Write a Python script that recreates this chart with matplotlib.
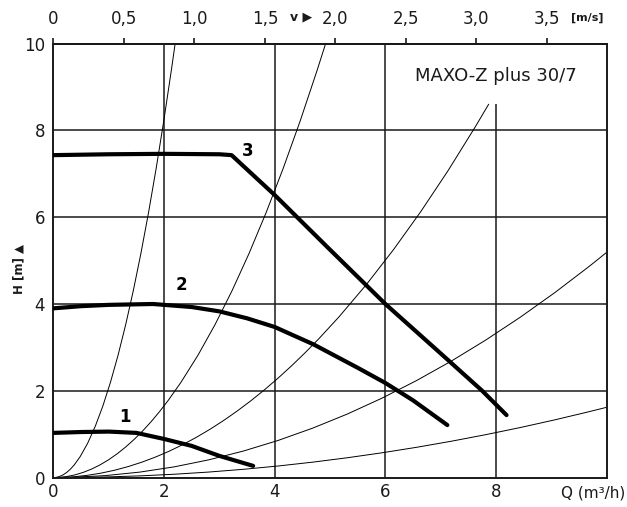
import matplotlib
matplotlib.use("Agg")
from matplotlib import pyplot as plt
from matplotlib.path import Path
from matplotlib.patches import PathPatch

# pump curves (Q m3/h, H m)
q_speed1 = [0, 0.5, 1.0, 1.5, 2.0, 2.5, 3.0, 3.61]
h_speed1 = [1.03, 1.05, 1.06, 1.03, 0.89, 0.73, 0.50, 0.27]

q_speed2 = [0, 0.5, 1.0, 1.8, 2.5, 3.0, 3.5, 4.0, 4.7, 5.5, 6.0, 6.5, 7.12]
h_speed2 = [3.90, 3.95, 3.98, 4.00, 3.93, 3.83, 3.67, 3.47, 3.07, 2.53, 2.18, 1.78, 1.21]

q_speed3 = [0, 1.0, 2.0, 3.0, 3.22, 4.0, 5.0, 6.0, 7.0, 7.75, 8.19]
h_speed3 = [7.43, 7.45, 7.46, 7.45, 7.43, 6.51, 5.25, 4.0, 2.86, 2.0, 1.44]

# system curves (parabolas through origin), end points
sys_q_end = [2.2, 4.92, 7.87, 10.0, 10.0]
sys_h_end = [10.0, 10.0, 8.61, 5.19, 1.62]

q_ticks = [0, 2, 4, 6, 8]
h_ticks = [0, 2, 4, 6, 8, 10]
v_ticks = [0, 0.5, 1.0, 1.5, 2.0, 2.5, 3.0, 3.5]
v_labels = ["0", "0,5", "1,0", "1,5", "2,0", "2,5", "3,0", "3,5"]
q_per_v = 2.548  # m3/h per m/s

fig = plt.figure(figsize=(6.27, 5.07), dpi=100)
ax = fig.add_axes([0.0852, 0.058, 0.8824, 0.856])
ax.set_xlim(0, 10)
ax.set_ylim(0, 10)

grid_kw = dict(color="#1a1a1a", lw=1.1, zorder=1)
for h in [2, 4, 6, 8]:
    ax.axhline(h, **grid_kw)
for q in [2, 4, 6]:
    ax.axvline(q, **grid_kw)
ax.vlines(8, 0, 8.61, **grid_kw)

# system curves as quadratic beziers (exact parabolas H = k Q^2)
for qe, he in zip(sys_q_end, sys_h_end):
    path = Path([(0, 0), (qe / 2, 0), (qe, he)],
                [Path.MOVETO, Path.CURVE3, Path.CURVE3])
    ax.add_patch(PathPatch(path, fill=False, lw=0.7, color="black", zorder=2))

for q, h in [(q_speed1, h_speed1), (q_speed2, h_speed2), (q_speed3, h_speed3)]:
    ax.plot(q, h, color="black", lw=3.0, solid_capstyle="round",
            solid_joinstyle="round", zorder=3)

lab_kw = dict(fontsize=12, fontweight="bold", ha="center", va="center")
ax.text(1.29, 1.39, "1", **lab_kw)
ax.text(2.32, 4.44, "2", **lab_kw)
ax.text(3.52, 7.53, "3", **lab_kw)

ax.text(8.0, 9.25, "MAXO-Z plus 30/7", fontsize=13, ha="center", va="center",
        color="#1a1a1a")

for s in ax.spines.values():
    s.set_linewidth(1.4)
    s.set_color("#1a1a1a")

ax.set_xticks(q_ticks)
ax.set_yticks(h_ticks)
ax.tick_params(axis="both", length=0, labelsize=12, colors="#1a1a1a")
ax.tick_params(axis="x", pad=4)
ax.tick_params(axis="y", pad=6)

fig.text(0.997, 0.028, "Q (m³/h)", fontsize=11, ha="right", va="center",
         color="#1a1a1a")
ax.text(-0.62, 4.8, "H [m] ▲", fontsize=8.5, fontweight="bold", rotation=90,
        ha="center", va="center", color="#1a1a1a")

top = ax.secondary_xaxis("top", functions=(lambda q: q / q_per_v,
                                           lambda v: v * q_per_v))
top.set_xticks(v_ticks)
top.set_xticklabels(v_labels)
top.tick_params(length=4, width=1.2, labelsize=12, pad=7, colors="#1a1a1a",
                direction="out")
top.spines["top"].set_linewidth(1.4)

ax.text(1.76 * q_per_v, 10.62, "v ▶", fontsize=9, fontweight="bold",
        ha="center", va="center", color="#1a1a1a", clip_on=False)
ax.text(3.79 * q_per_v, 10.6, "[m/s]", fontsize=8, fontweight="bold",
        ha="center", va="center", color="#1a1a1a", clip_on=False)

fig.savefig("out.png", dpi=100)
